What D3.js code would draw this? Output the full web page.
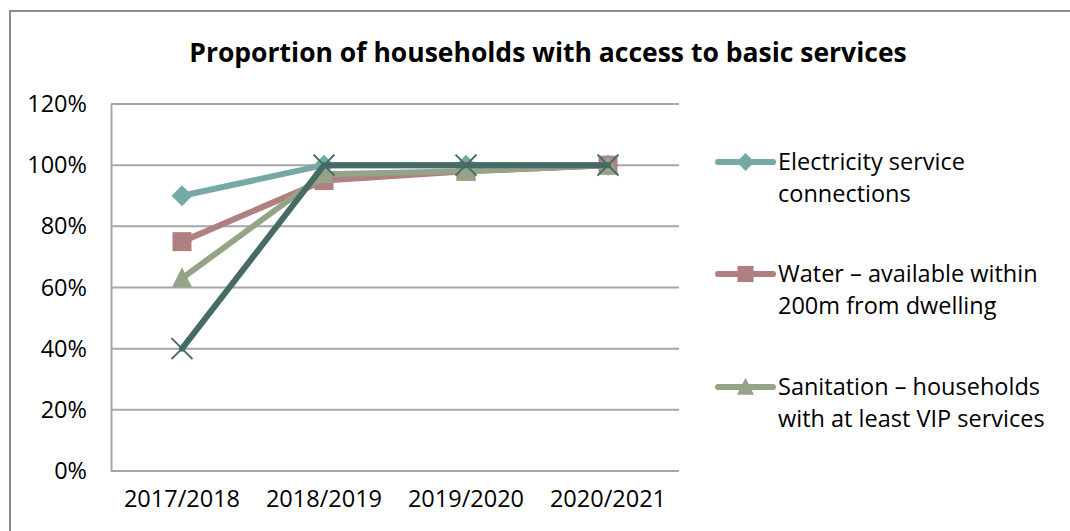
<!DOCTYPE html>
<html>
<head>
<meta charset="utf-8">
<script src="https://cdn.jsdelivr.net/npm/d3@7"></script>
<style>
  body { margin: 0; background: #fff; }
  text { font-family: "Open Sans", sans-serif; fill: #000; }
</style>
</head>
<body>
<div id="chart-container"></div>
<script>
const years = ["2017/2018", "2018/2019", "2019/2020", "2020/2021"];
const electricity = [0.90, 1.00, 1.00, 1.00];
const water = [0.75, 0.95, 0.98, 1.00];
const sanitation = [0.63, 0.97, 0.98, 1.00];
const refuse = [0.40, 1.00, 1.00, 1.00];
const yTicks = [0, 0.2, 0.4, 0.6, 0.8, 1.0, 1.2];

const seriesList = [
    { name: ["Electricity service", "connections"], values: electricity, color: "#76a9a5", marker: "diamond", legend: true },
    { name: ["Water \u2013 available within", "200m from dwelling"], values: water, color: "#b07f7f", marker: "square", legend: true },
    { name: ["Sanitation \u2013 households", "with at least VIP services"], values: sanitation, color: "#95a386", marker: "triangle", legend: true },
    { name: ["Refuse removal"], values: refuse, color: "#466b66", marker: "x", legend: false }
];

const svgWidth = 1070;
const svgHeight = 531;
const margin = { top: 104, left: 111 };
const width = 568;
const height = 367;

const svg = d3.select("#chart-container")
    .append("svg")
    .attr("width", svgWidth)
    .attr("height", svgHeight);

// outer frame (runs off the right and bottom edges)
svg.append("rect")
    .attr("x", 10)
    .attr("y", 11)
    .attr("width", 1100)
    .attr("height", 560)
    .attr("fill", "none")
    .attr("stroke", "#8c8c8c")
    .attr("stroke-width", 2);

svg.append("text")
    .attr("x", 548)
    .attr("y", 62)
    .attr("text-anchor", "middle")
    .attr("font-size", "26.5px")
    .attr("font-weight", "bold")
    .text("Proportion of households with access to basic services");

const chart = svg.append("g")
    .attr("transform", `translate(${margin.left},${margin.top})`);

const scaleX = d3.scaleBand()
    .domain(years)
    .range([0, width]);

const scaleY = d3.scaleLinear()
    .domain([0, 1.2])
    .range([height, 0]);

// gridlines
chart.append("g")
    .selectAll("line")
    .data(yTicks)
    .enter()
    .append("line")
    .attr("x1", 0)
    .attr("x2", width)
    .attr("y1", d => scaleY(d))
    .attr("y2", d => scaleY(d))
    .attr("stroke", "#a6a6a6")
    .attr("stroke-width", 2);

const axisY = chart.append("g")
    .call(d3.axisLeft(scaleY).tickValues(yTicks).tickFormat(d3.format(".0%")).tickSize(0).tickPadding(24));
axisY.select(".domain").attr("stroke", "#a6a6a6").attr("stroke-width", 2);
axisY.selectAll("text").attr("font-size", "23.5px").attr("font-family", "Open Sans, sans-serif").attr("fill", "#000");

const axisX = chart.append("g")
    .attr("transform", `translate(0,${height})`)
    .call(d3.axisBottom(scaleX).tickSize(0).tickPadding(19));
axisX.select(".domain").remove();
axisX.selectAll("text").attr("font-size", "23.5px").attr("font-family", "Open Sans, sans-serif").attr("fill", "#000");

const line = d3.line()
    .x((d, i) => scaleX(years[i]) + scaleX.bandwidth() / 2)
    .y(d => scaleY(d));

function drawMarker(g, type, color, k) {
    if (type === "diamond") {
        g.append("path").attr("d", `M0,${-10.5 * k}L${10.5 * k},0L0,${10.5 * k}L${-10.5 * k},0Z`).attr("fill", color);
    } else if (type === "square") {
        g.append("rect").attr("x", -9.5 * k).attr("y", -9.5 * k).attr("width", 19 * k).attr("height", 19 * k).attr("fill", color);
    } else if (type === "triangle") {
        g.append("path").attr("d", `M0,${-11 * k}L${10 * k},${9 * k}L${-10 * k},${9 * k}Z`).attr("fill", color);
    } else if (type === "x") {
        g.append("path").attr("d", "M-10.5,-10.5L10.5,10.5M-10.5,10.5L10.5,-10.5")
            .attr("stroke", color).attr("stroke-width", 2).attr("fill", "none");
    }
}

seriesList.forEach(function(s) {
    chart.append("path")
        .datum(s.values)
        .attr("d", line)
        .attr("fill", "none")
        .attr("stroke", s.color)
        .attr("stroke-width", 6)
        .attr("stroke-linejoin", "round")
        .attr("stroke-linecap", "round");

    s.values.forEach(function(v, i) {
        const g = chart.append("g")
            .attr("transform", `translate(${scaleX(years[i]) + scaleX.bandwidth() / 2},${scaleY(v)})`);
        drawMarker(g, s.marker, s.color, 1);
    });
});

// legend
const legendTop = [162, 274, 387];
seriesList.filter(s => s.legend).forEach(function(s, i) {
    const g = svg.append("g").attr("transform", `translate(718,${legendTop[i]})`);
    g.append("line")
        .attr("x1", 0).attr("x2", 55)
        .attr("stroke", s.color).attr("stroke-width", 6).attr("stroke-linecap", "round");
    const m = g.append("g").attr("transform", "translate(27.5,0)");
    drawMarker(m, s.marker, s.color, 0.85);
    s.name.forEach(function(t, j) {
        g.append("text")
            .attr("x", 60)
            .attr("y", j * 31.5)
            .attr("dy", "0.35em")
            .attr("font-size", "23.5px")
            .text(t);
    });
});
</script>
</body>
</html>
